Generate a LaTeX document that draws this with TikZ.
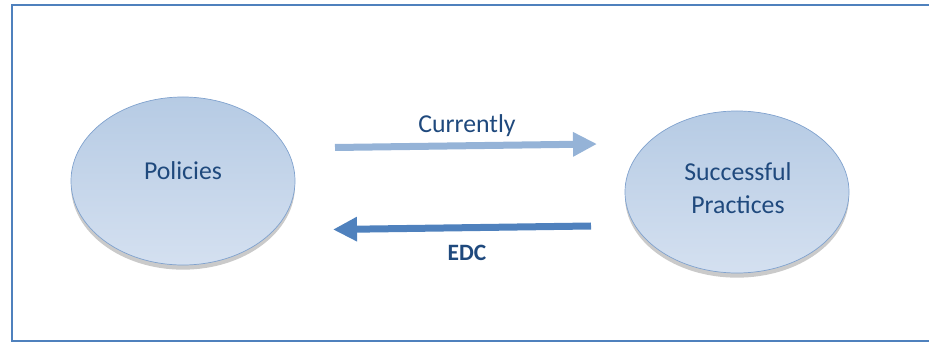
\documentclass[tikz,border=0pt]{standalone}
\usepackage{fontspec}
\setmainfont{Carlito}
\usepackage{xcolor}
\usepackage{tikz}
\usetikzlibrary{shapes.geometric,shadows,arrows.meta}
\definecolor{frameblue}{RGB}{79, 129, 189}
\definecolor{textblue}{RGB}{31, 73, 125}
\definecolor{ovaltop}{RGB}{182, 203, 228}
\definecolor{ovalbottom}{RGB}{212, 224, 240}
\definecolor{ovalline}{RGB}{128, 162, 206}
\definecolor{lightarrow}{RGB}{149, 179, 215}
\definecolor{darkarrow}{RGB}{79, 129, 189}
\tikzset{
    oval/.style={ellipse,draw=ovalline,line width=0.6pt,top color=ovaltop,bottom color=ovalbottom,
        text=textblue,font=\fontsize{22}{30}\selectfont,align=center,
        drop shadow={shadow xshift=0cm,shadow yshift=-0.14cm,fill=gray!70,opacity=0.6}},
    flowarrow/.style={line width=0.21cm,-{Triangle[length=0.72cm,width=0.69cm]}},
}

\begin{document}
\begin{tikzpicture}[x=0.03cm,y=-0.03cm]
    % Picture area
    \clip (0,0) rectangle (929,343);
    \useasboundingbox (0,0) rectangle (929,343);

    % Frame
    \draw[frameblue,line width=0.055cm] (12,5) rectangle (940,341);

    % Ovals
    \node[oval,minimum width=6.72cm,minimum height=5.04cm] (policies) at (183,181) {};
    \node[text=textblue,font=\fontsize{22}{30}\selectfont] (policiestext) at (183,171) {Policies};
    \node[oval,minimum width=6.72cm,minimum height=4.86cm] (practices) at (737,192) {};
    \node[text=textblue,font=\fontsize{22}{30}\selectfont,align=center] (practicestext) at (738,188) {Successful\\[-2pt]Practices};

    % Arrow ends
    \coordinate (curstart) at (335,147.5);
    \coordinate (curend) at (597,144);
    \coordinate (edcstart) at (591,226);
    \coordinate (edcend) at (333,229.5);

    % Arrows
    \draw[flowarrow,lightarrow] (curstart) -- (curend);
    \draw[flowarrow,darkarrow] (edcstart) -- (edcend);

    % Labels
    \node[text=textblue,font=\fontsize{22}{26}\selectfont] (currently) at (467,126) {Currently};
    \node[text=textblue,font=\fontsize{20}{24}\selectfont\bfseries] (edc) at (467,253) {EDC};
\end{tikzpicture}
\end{document}
